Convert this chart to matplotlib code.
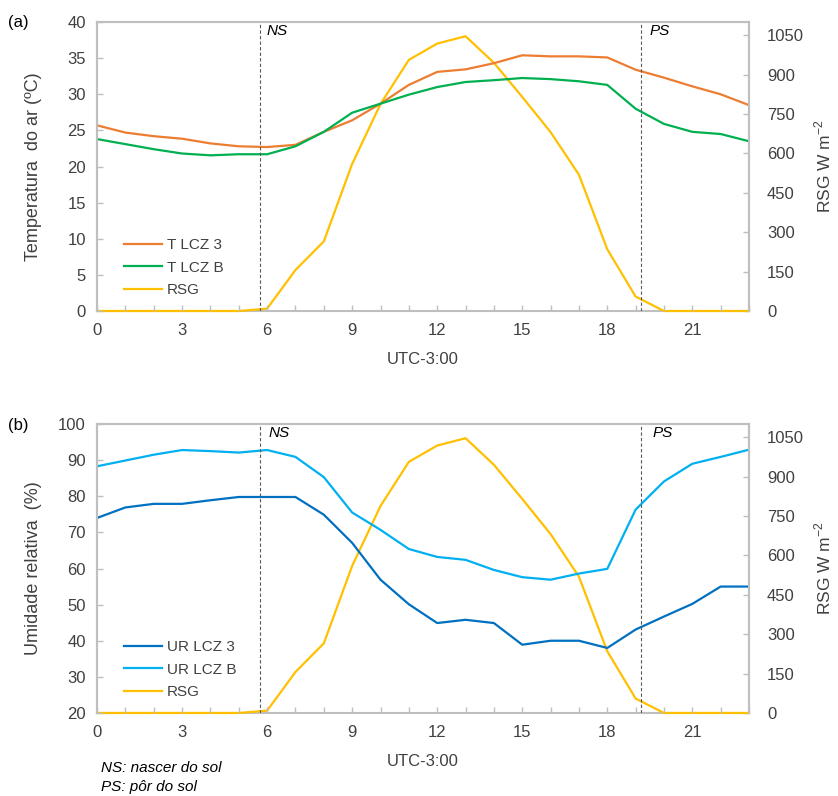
import matplotlib.pyplot as plt

plt.rcParams["font.family"] = ["Liberation Sans", "DejaVu Sans"]
plt.rcParams["font.size"] = 12

hours = list(range(24))
t_lcz3 = [25.7, 24.7, 24.2, 23.85, 23.2, 22.8, 22.7, 23.0, 24.8, 26.4, 28.7, 31.3,
          33.1, 33.45, 34.3, 35.4, 35.25, 35.25, 35.1, 33.4, 32.3, 31.1, 30.0, 28.5]
t_lczb = [23.8, 23.1, 22.4, 21.8, 21.55, 21.7, 21.7, 22.8, 24.8, 27.45, 28.7, 29.95,
          31.0, 31.7, 31.95, 32.25, 32.1, 31.8, 31.3, 28.0, 25.9, 24.8, 24.5, 23.5]
ur_lcz3 = [74.0, 76.9, 77.9, 77.9, 78.9, 79.8, 79.8, 79.8, 74.9, 67.1, 56.9, 50.1,
           44.9, 45.8, 44.9, 38.9, 40.0, 40.0, 38.0, 43.1, 46.7, 50.2, 55.0, 55.0]
ur_lczb = [88.3, 89.9, 91.5, 92.8, 92.5, 92.1, 92.8, 90.9, 85.3, 75.5, 70.7, 65.4,
           63.2, 62.4, 59.6, 57.6, 56.9, 58.6, 59.9, 76.3, 84.1, 89.0, 90.9, 92.9]
rsg = [0, 0, 0, 0, 0, 0, 9, 156, 265, 560, 788, 956,
       1018, 1046, 945, 815, 681, 519, 235, 55, 0, 0, 0, 0]

ns_hour = 5.74
ps_hour = 19.2

c_or = "#ED7D31"
c_gr = "#00B050"
c_ye = "#FFC000"
c_db = "#0070C0"
c_lb = "#00B0F0"
spine_c = "#BFBFBF"
txt_c = "#404040"

fig = plt.figure(figsize=(8.38, 7.96), dpi=100)
ax_a = fig.add_axes([0.1158, 0.6093, 0.778, 0.363])
ax_b = fig.add_axes([0.1158, 0.1043, 0.778, 0.363])


def style(ax, ax2, ylim, yticks):
    ax.set_xlim(0, 23)
    ax.set_ylim(*ylim)
    ax.set_yticks(yticks)
    ax.set_xticks(hours)
    ax.set_xticklabels([str(h) if h % 3 == 0 else "" for h in hours])
    ax2.set_ylim(0, 1100)
    ax2.set_yticks(range(0, 1051, 150))
    for a in (ax, ax2):
        for s in a.spines.values():
            s.set_color(spine_c)
            s.set_linewidth(1.5)
        a.tick_params(direction="in", color=spine_c, length=4, width=1,
                      labelcolor=txt_c, labelsize=12, pad=8)
    ax2.tick_params(axis="y", pad=13)
    # bottom spine from the twin only, so RSG at zero sits on top of it
    ax.spines["bottom"].set_visible(False)
    ax.tick_params(axis="x", pad=9)
    ax.set_xlabel("UTC-3:00", color=txt_c, fontsize=12, labelpad=10)
    ax2.set_ylabel("RSG W m$^{\\mathregular{-2}}$", color=txt_c, fontsize=12.5, labelpad=6)
    ax.yaxis.set_label_coords(-0.085, 0.5)


# (a) temperature
ax2a = ax_a.twinx()
ax_a.plot(hours, t_lcz3, color=c_or, lw=1.6, label="T LCZ 3")
ax_a.plot(hours, t_lczb, color=c_gr, lw=1.6, label="T LCZ B")
ax2a.plot(hours, rsg, color=c_ye, lw=1.6, label="RSG", zorder=3, clip_on=False)
ax_a.set_ylabel("Temperatura  do ar (ºC)", color=txt_c, fontsize=13)
style(ax_a, ax2a, (0, 40), range(0, 41, 5))
ax_a.set_zorder(ax2a.get_zorder() + 1)
ax_a.patch.set_visible(False)
for h in (ns_hour, ps_hour):
    ax_a.axvline(h, color="#595959", ls=(0, (3, 2)), lw=0.8)
ax_a.text(ns_hour + 0.25, 38.8, "NS", style="italic", fontsize=11, va="center")
ax_a.text(ps_hour + 0.3, 38.8, "PS", style="italic", fontsize=11, va="center")
h1, l1 = ax_a.get_legend_handles_labels()
h2, l2 = ax2a.get_legend_handles_labels()
ax_a.legend(h1 + h2, l1 + l2, loc="lower left", bbox_to_anchor=(0.02, 0.0),
            frameon=False, fontsize=11, handlelength=2.5, labelspacing=0.55,
            handletextpad=0.3, labelcolor=txt_c)
fig.text(0.009, 0.972, "(a)", fontsize=12, va="center")

# (b) relative humidity
ax2b = ax_b.twinx()
ax_b.plot(hours, ur_lcz3, color=c_db, lw=1.6, label="UR LCZ 3")
ax_b.plot(hours, ur_lczb, color=c_lb, lw=1.6, label="UR LCZ B")
ax2b.plot(hours, rsg, color=c_ye, lw=1.6, label="RSG", zorder=3, clip_on=False)
ax_b.set_ylabel("Umidade relativa  (%)", color=txt_c, fontsize=13)
style(ax_b, ax2b, (20, 100), range(20, 101, 10))
ax_b.set_zorder(ax2b.get_zorder() + 1)
ax_b.patch.set_visible(False)
for h in (ns_hour, ps_hour):
    ax_b.axvline(h, color="#595959", ls=(0, (3, 2)), lw=0.8)
ax_b.text(ns_hour + 0.3, 97.5, "NS", style="italic", fontsize=11, va="center")
ax_b.text(ps_hour + 0.4, 97.5, "PS", style="italic", fontsize=11, va="center")
h1, l1 = ax_b.get_legend_handles_labels()
h2, l2 = ax2b.get_legend_handles_labels()
ax_b.legend(h1 + h2, l1 + l2, loc="lower left", bbox_to_anchor=(0.02, 0.0),
            frameon=False, fontsize=11, handlelength=2.5, labelspacing=0.55,
            handletextpad=0.3, labelcolor=txt_c)
fig.text(0.009, 0.465, "(b)", fontsize=12, va="center")

fig.text(0.12, 0.035, "NS: nascer do sol", style="italic", fontsize=11, va="center")
fig.text(0.12, 0.011, "PS: pôr do sol", style="italic", fontsize=11, va="center")

fig.savefig("out.png", dpi=100, facecolor="white")
